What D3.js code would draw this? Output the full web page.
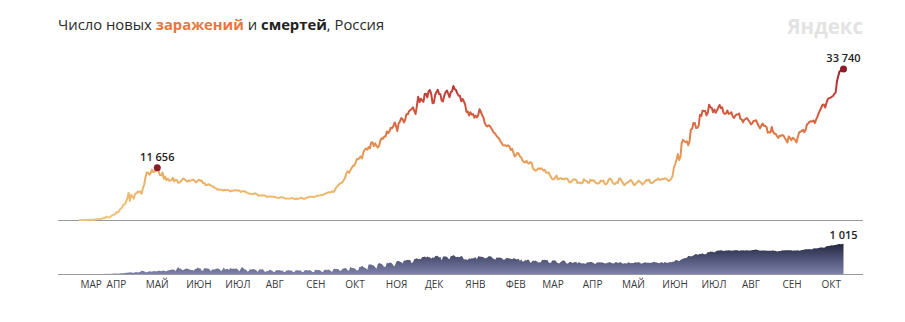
<!DOCTYPE html>
<html><head><meta charset="utf-8">
<script src="https://cdn.jsdelivr.net/npm/d3@7"></script>
<style>
body{margin:0;background:#fff;}
svg text{font-family:"Open Sans",sans-serif;}
</style></head><body>
<svg id="chart" width="905" height="322"></svg>
<script>
// ---- DATA ----
const firstDay = "2020-03-12";
const casesDaily = [
 6,6,11,14,30,21,33,52,54,53,61,71,57,163,182,196,228,270,302,500,
 440,771,601,582,658,954,1154,1175,1459,1786,1667,2186,2558,2774,3388,3448,4070,4785,6060,4268,5642,5236,4774,5849,5966,6361,6198,6411,5841,7099,
 7933,9623,10633,10581,10102,10559,11231,10699,10817,11012,11656,10899,10028,9974,10598,9200,9709,8926,9263,8764,8849,8894,9434,8599,8946,8915,8338,8371,8572,8952,9268,
 9035,8863,8536,8831,8726,8855,8984,8985,8595,8404,8779,8987,8706,8835,8246,8248,7843,7790,7972,7889,7728,7600,7425,7176,7113,6800,6852,6791,6719,6693,
 6556,6760,6632,6736,6611,6368,6562,6509,6635,6632,6615,6611,6537,6248,6422,6428,6406,6214,6109,5940,5842,5862,5811,5871,5998,5765,5635,5395,5475,5509,5482,
 5462,5427,5159,5204,5241,5267,5212,5189,5118,5102,4945,4890,5057,5065,5061,4969,4839,4748,4828,4767,4838,4921,4852,4696,4676,4744,4711,4829,4980,4897,4729,
 4729,4952,4995,5110,5205,5195,5185,5099,5218,5363,5405,5449,5509,5529,5670,5762,5905,6065,6148,6196,6215,6431,6234,6595,7212,7523,7867,8135,8232,8481,
 8945,9412,10499,10888,10499,11115,11615,12126,12126,12846,13634,13592,13868,14231,13754,15150,15722,15982,15700,16319,15971,17340,17347,16521,17121,16550,16202,16550,17717,18283,18140,
 18665,18648,19768,19404,19851,20582,20498,20977,21798,20977,19851,21608,21983,22778,22572,21798,22410,23610,23610,24318,24581,24822,25173,24326,23675,25487,27543,26338,27100,26683,
 26402,28145,28209,27403,28782,29039,28142,26097,26190,27927,28585,29096,28137,28080,26689,26509,27787,28552,28948,28209,27434,28568,28775,29935,29258,29018,28284,27787,27747,26513,27039,
 26500,25800,24150,24246,23351,24092,23541,23652,22851,23315,22934,23400,24763,24200,23400,22900,21700,21127,20921,21152,21000,20500,20000,19500,19290,18800,18500,18200,17600,17165,16688,
 16643,16714,16474,16688,16421,15627,15916,15048,14207,14494,15000,14850,14185,14000,13233,12953,12828,13233,12742,12604,12953,12742,11534,11198,11024,11198,11534,11359,
 11571,11385,11022,11198,10595,10565,10595,10000,9437,9079,9079,9445,9908,9079,9149,9393,9149,9231,9079,9284,9299,8900,8369,8457,8769,9073,9088,8979,8277,8359,8328,
 8173,8294,9116,8789,8711,8328,8294,8996,8774,8907,8702,8328,8162,8173,8351,8792,8632,8789,8053,8011,8271,8996,9284,9035,8419,8046,8044,8442,8284,9270,
 9284,8697,8279,7770,8065,8328,8419,8697,8926,8554,7975,7770,8217,8380,8790,8554,8271,7920,8246,8589,8947,8791,9044,8351,8217,8373,8632,8947,8952,9268,8951,
 9022,9145,9163,9301,9262,9004,8702,8947,9227,9868,11699,12505,13397,14723,13397,14057,17262,17906,17611,17378,17594,16715,17594,20182,20393,21665,21650,20538,20616,21042,
 23543,23218,24439,24353,24353,23378,23962,25766,25142,25082,24072,24702,23947,24471,25116,25704,25018,25173,23947,23704,23811,24471,23704,23811,24072,23239,22804,23270,23564,23564,23807,
 22589,22470,21828,22420,22589,22804,22336,21932,21378,21571,22144,22160,22277,21624,21000,20493,21058,21559,21058,20992,20765,19509,19630,19509,20765,19706,19286,19286,18780,18325,18856,
 18780,18985,18856,18341,17856,17325,18645,18341,17837,18341,18175,17837,17325,18554,19594,19706,19905,20174,19594,20174,21379,21559,21986,22056,21986,22236,21650,22430,23088,23888,
 24522,25133,25769,25781,25133,26223,27020,27240,27320,27550,27700,28190,28500,31000,32196,33208,33400,33600,33740
];
const deathsDaily = [
 0,0,0,0,0,0,0,1,0,0,0,0,1,0,2,1,0,1,0,2,
 7,9,4,9,2,11,11,13,13,18,12,13,22,24,28,33,41,42,48,51,57,44,42,60,66,47,56,72,108,101,
 96,57,58,76,95,86,76,98,88,88,94,107,107,93,113,119,94,91,115,127,135,150,139,153,92,174,232,174,181,138,138,
 162,182,178,169,144,134,134,112,171,174,216,181,194,119,113,193,194,182,181,161,95,153,154,154,176,188,176,147,93,154,
 216,147,168,168,135,198,173,175,172,174,188,130,95,175,232,189,150,147,85,95,160,154,161,165,146,129,70,146,161,147,161,
 95,70,100,95,144,129,114,70,77,120,130,129,124,111,114,68,70,115,121,123,121,121,68,60,122,123,120,117,118,63,71,
 123,130,119,122,122,110,65,59,133,144,122,132,119,73,71,131,148,128,150,132,103,63,160,178,169,169,160,99,117,177,
 186,201,186,117,114,239,202,197,191,163,115,128,244,232,286,229,219,186,141,317,317,320,295,283,229,179,320,366,355,334,282,
 233,245,389,353,385,378,349,286,256,387,432,439,411,395,353,442,456,463,474,467,457,361,401,491,507,524,496,510,491,569,
 569,589,554,589,562,560,507,561,539,597,613,602,555,575,456,588,583,590,577,523,490,603,599,635,601,562,575,562,568,599,576,
 488,495,482,470,530,500,530,522,544,562,490,592,590,576,575,562,530,524,555,594,597,590,526,512,476,549,548,550,544,534,488,
 477,508,541,525,520,511,491,524,523,490,494,510,433,492,407,424,471,454,489,463,381,403,451,439,456,417,383,394,
 391,475,467,478,463,479,382,368,395,463,456,459,401,372,354,394,423,449,456,390,342,359,403,411,370,383,390,410,355,391,387,
 353,360,356,339,367,394,392,401,399,381,355,339,390,384,391,386,397,367,363,355,381,383,399,366,358,352,392,396,375,377,
 398,367,343,364,364,355,394,380,363,372,364,391,386,386,398,379,343,357,375,396,380,377,374,367,389,391,408,389,384,371,362,
 394,396,363,399,383,369,384,403,392,410,413,451,468,453,428,466,492,510,528,538,548,599,602,587,601,622,652,668,647,652,
 679,672,697,663,659,681,737,726,752,749,744,720,752,780,791,789,793,785,768,779,788,784,794,790,784,780,797,799,792,794,771,
 792,790,792,790,788,794,789,789,790,804,808,810,817,807,796,783,785,790,790,786,782,778,779,780,778,792,770,780,756,760,767,
 772,799,784,798,796,792,796,798,792,780,786,784,786,793,781,784,806,808,822,829,833,828,839,820,828,852,862,853,860,867,
 887,890,887,880,895,929,936,942,952,962,957,968,973,986,999,1002,999,1002,1015
];
const monthLabels = ["МАР","АПР","МАЙ","ИЮН","ИЮЛ","АВГ","СЕН","ОКТ","НОЯ","ДЕК","ЯНВ","ФЕВ","МАР","АПР","МАЙ","ИЮН","ИЮЛ","АВГ","СЕН","ОКТ"];
const monthTickDates = ["2020-03-12","2020-04-01","2020-05-01","2020-06-01","2020-07-01","2020-08-01","2020-09-01","2020-10-01","2020-11-01","2020-12-01",
 "2021-01-01","2021-02-01","2021-03-01","2021-04-01","2021-05-01","2021-06-01","2021-07-01","2021-08-01","2021-09-01","2021-10-01"];
const caseMarks = ["2020-05-11","2021-10-19"];
const deathMarks = ["2021-10-19"];
const titleParts = [
 {text:"Число новых ", weight:400, color:"#2b2b2b"},
 {text:"заражений", weight:700, color:"#e8773d"},
 {text:" и ", weight:400, color:"#2b2b2b"},
 {text:"смертей", weight:700, color:"#222"},
 {text:", Россия", weight:400, color:"#2b2b2b"}
];
const brand = "Яндекс";

// ---- CHART ----
const svg = d3.select("#chart");
const parse = d3.utcParse("%Y-%m-%d");
const d0 = parse(firstDay);
const rows = casesDaily.map((c,i)=>({date:d3.utcDay.offset(d0,i), cases:c, deaths:deathsDaily[i]}));
const fmt = d3.formatLocale({decimal:",", thousands:" ", grouping:[3], currency:["",""]}).format(",d");

const plotL = 58, plotR = 863;
const x = d3.scaleUtc().domain(d3.extent(rows,d=>d.date)).range([79, 843.5]);
const yC = d3.scaleLinear().domain([0, d3.max(casesDaily)]).range([220, 69]);
const yD = d3.scaleLinear().domain([0, d3.max(deathsDaily)]).range([274, 243.7]);

const defs = svg.append("defs");
const g1 = defs.append("linearGradient").attr("id","caseGrad").attr("gradientUnits","userSpaceOnUse")
  .attr("x1",0).attr("x2",0).attr("y1",yC(0)).attr("y2",yC(d3.max(casesDaily)));
[[0,"#f0c67e"],[0.3,"#eaad62"],[0.48,"#e48f50"],[0.63,"#da6a42"],[0.78,"#cb4a3a"],[0.9,"#b83432"],[1,"#9e2129"]]
 .forEach(([o,c])=>g1.append("stop").attr("offset",o).attr("stop-color",c));
const g2 = defs.append("linearGradient").attr("id","deathGrad").attr("gradientUnits","userSpaceOnUse")
  .attr("x1",0).attr("x2",0).attr("y1",yD(d3.max(deathsDaily))).attr("y2",yD(0));
[[0,"#242740"],[0.45,"#4b4f72"],[1,"#7d81a8"]].forEach(([o,c])=>g2.append("stop").attr("offset",o).attr("stop-color",c));

// title
const title = svg.append("text").attr("x",58).attr("y",30).attr("font-size",14.8);
titleParts.forEach(p=>title.append("tspan").text(p.text).attr("font-weight",p.weight).attr("fill",p.color));
svg.append("text").attr("x",plotR).attr("y",34).attr("text-anchor","end").attr("font-size",22)
  .attr("font-weight",700).attr("fill","#e3e3e3").attr("textLength",76).attr("lengthAdjust","spacingAndGlyphs").text(brand);

// baselines
svg.append("line").attr("x1",plotL).attr("x2",plotR).attr("y1",yC(0)+0.5).attr("y2",yC(0)+0.5).attr("stroke","#9a9a9a").attr("stroke-width",1);

// deaths area
svg.append("path").datum(rows).attr("fill","url(#deathGrad)")
  .attr("d", d3.area().x(d=>x(d.date)).y0(yD(0)).y1(d=>yD(d.deaths)));
svg.append("line").attr("x1",plotL).attr("x2",plotR).attr("y1",yD(0)+0.5).attr("y2",yD(0)+0.5).attr("stroke","#9a9a9a").attr("stroke-width",1);

// cases line
svg.append("path").datum(rows).attr("fill","none").attr("stroke","url(#caseGrad)").attr("stroke-width",2)
  .attr("stroke-linejoin","round")
  .attr("d", d3.line().x(d=>x(d.date)).y(d=>yC(d.cases)));

// case marks
caseMarks.forEach(s=>{
  const r = rows.find(d=>+d.date===+parse(s));
  svg.append("circle").attr("cx",x(r.date)).attr("cy",yC(r.cases)).attr("r",3.5).attr("fill","#8c1c25");
  svg.append("text").attr("x",x(r.date)).attr("y",yC(r.cases)-7).attr("text-anchor","middle")
    .attr("font-size",11).attr("font-weight",600).attr("fill","#222").text(fmt(r.cases));
});
deathMarks.forEach(s=>{
  const r = rows.find(d=>+d.date===+parse(s));
  svg.append("text").attr("x",x(r.date)).attr("y",yD(r.deaths)-5).attr("text-anchor","middle")
    .attr("font-size",11).attr("font-weight",600).attr("fill","#222").text(fmt(r.deaths));
});

// month axis
const axis = d3.axisBottom(x).tickValues(monthTickDates.map(parse))
  .tickFormat((d,i)=>monthLabels[i]).tickSize(0).tickPadding(7);
const ga = svg.append("g").attr("transform",`translate(0,${yD(0)})`).call(axis);
ga.select(".domain").remove();
ga.selectAll("text").attr("text-anchor","start").attr("dx",1).attr("font-size",10)
  .attr("font-family","'Open Sans',sans-serif").attr("fill","#3a3a3a");
</script>
</body></html>
